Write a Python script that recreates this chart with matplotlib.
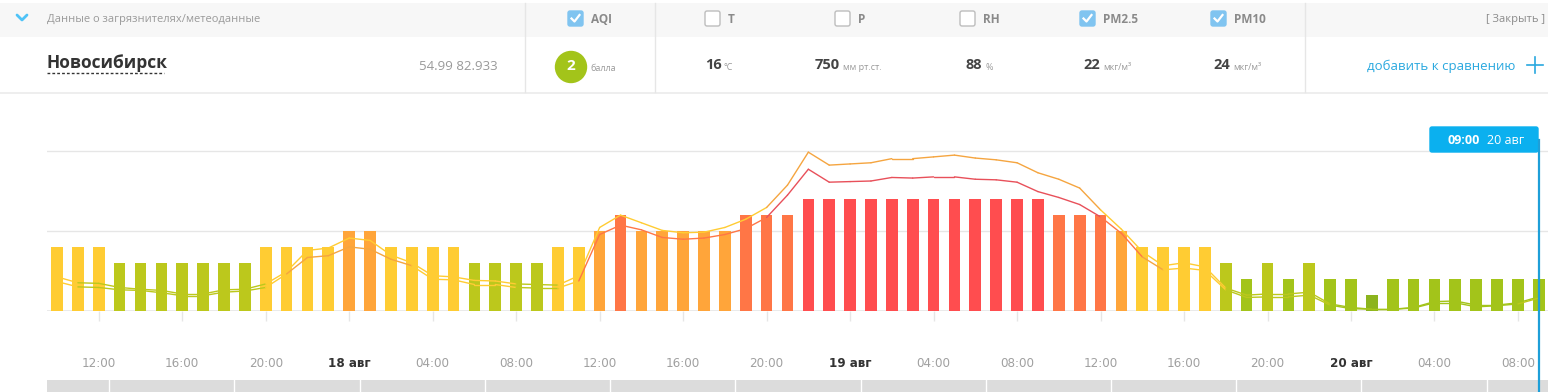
import matplotlib
matplotlib.use("Agg")
import matplotlib.pyplot as plt
import numpy as np
from matplotlib.patches import Rectangle, Circle, FancyBboxPatch
from matplotlib.collections import LineCollection
from matplotlib.transforms import blended_transform_factory

plt.rcParams['font.family'] = ['Open Sans', 'DejaVu Sans']

# AQI по часам, с 10:00 17 авг по 09:00 20 авг
aqi = [4, 4, 4, 3, 3, 3, 3, 3, 3, 3,
       4, 4, 4, 4, 5, 5, 4, 4, 4, 4,
       3, 3, 3, 3, 4, 4, 5, 6, 5, 5,
       5, 5, 5, 6, 6, 6, 7, 7, 7, 7,
       7, 7, 7, 7, 7, 7, 7, 7, 6, 6,
       6, 5, 4, 4, 4, 4, 3, 2, 3, 2,
       3, 2, 2, 1, 2, 2, 2, 2, 2, 2,
       2, 2]

# PM10 и PM2.5, мкг/м3
pm10 = [58, 48, 47, 40, 37, 35, 29, 29, 36, 37,
        46, 67, 103, 107, 124, 120, 95, 82, 60, 58,
        52, 51, 46, 45, 44, 60, 142, 163, 150, 137,
        133, 134, 142, 156, 176, 214, 270, 248, 250, 252,
        259, 259, 262, 265, 260, 257, 252, 235, 224, 209,
        172, 139, 101, 77, 82, 75, 39, 27, 29, 29,
        32, 12, 6, 3, 3, 6, 16, 17, 10, 10,
        14, 24]
pm25 = [50, 41, 40, 36, 35, 31, 26, 26, 32, 34,
        40, 63, 91, 94, 109, 105, 88, 77, 54, 53,
        45, 45, 40, 39, 39, 51, 130, 146, 138, 125,
        122, 124, 130, 140, 159, 197, 241, 219, 220, 221,
        227, 226, 228, 228, 224, 223, 219, 203, 193, 181,
        160, 132, 92, 70, 73, 69, 36, 23, 24, 24,
        27, 10, 4, 3, 3, 5, 14, 14, 7, 9,
        12, 22]

tick_pos = [2, 6, 10, 14, 18, 22, 26, 30, 34, 38, 42, 46, 50, 54, 58, 62, 66, 70]
tick_labels = ['12:00', '16:00', '20:00', '18 авг', '04:00', '08:00', '12:00', '16:00', '20:00',
               '19 авг', '04:00', '08:00', '12:00', '16:00', '20:00', '20 авг', '04:00', '08:00']

level_colors = ['#8cb41e', '#a3c41a', '#bcc81c', '#ffcc33', '#ffa53a', '#ff7646', '#ff4d4f']
line_colors = ['#8cb41e', '#a3c41a', '#bcc81c', '#ffcc33', '#f5a540', '#ff7646', '#e8505a']
pm10_limits = [25, 50, 200]
pm25_limits = [20, 45, 80, 120, 180]

W, H = 1548, 392
fig = plt.figure(figsize=(W / 100, H / 100), dpi=100)

# --- график ---
x = np.arange(len(aqi))
ax = fig.add_axes([47 / W, 81 / H, (W - 47) / W, 200 / H])
ax.set_xlim(-0.48, 71.44)
ax.set_ylim(0, 12.5)
ax.bar(x, aqi, width=0.56, color=[level_colors[a - 1] for a in aqi], zorder=2)

ax2 = ax.twinx()
ax2.set_ylim(0, 340)


def colored_line(vals, limits):
    pts = np.column_stack([x, vals])
    segs = np.stack([pts[:-1], pts[1:]], axis=1)
    cols = []
    for a, b in zip(vals[:-1], vals[1:]):
        lvl = 1 + sum(max(a, b) >= t for t in limits)
        cols.append(line_colors[lvl])
    return LineCollection(segs, colors=cols, linewidths=1.0, zorder=3, capstyle='round')


ax2.add_collection(colored_line(pm10, pm10_limits))
ax2.add_collection(colored_line(pm25, pm25_limits))
ax2.axis('off')

ax.set_yticks([5, 10])
ax.yaxis.grid(True, color='#e6e6e6', lw=1)
ax.set_axisbelow(True)
ax.axhline(0, color='#e6e6e6', lw=1.2, zorder=1)
for s in ax.spines.values():
    s.set_visible(False)
ax.tick_params(axis='y', length=0, labelleft=False)
ax.set_xticks(tick_pos)
ax.set_xticklabels(tick_labels)
ax.tick_params(axis='x', length=7, width=1, color='#e6e6e6', pad=26, labelsize=9.5,
               labelcolor='#a0a0a0')
for lab in ax.get_xticklabels():
    lab.set_family('DejaVu Sans')
    lab.set_fontstretch('condensed')
    if 'авг' in lab.get_text():
        lab.set_fontweight('bold')
        lab.set_color('#333333')

# нижняя полоса навигатора
strip = fig.add_axes([47 / W, 0, (W - 47) / W, 12 / H])
strip.set_facecolor('#dcdcdc')
strip.set_xlim(ax.get_xlim())
strip.set_ylim(0, 1)
for sx in np.arange(2.5, 72, 6):
    strip.axvline(sx, color='white', lw=1)
strip.set_xticks([])
strip.set_yticks([])
for s in strip.spines.values():
    s.set_visible(False)

# --- шапка, в пикселях ---
ov = fig.add_axes([0, 0, 1, 1], zorder=5)
ov.set_xlim(0, W)
ov.set_ylim(H, 0)
ov.axis('off')

ov.add_patch(Rectangle((0, 3), W, 34, color='#f7f7f7', lw=0))
ov.add_patch(Rectangle((0, 92), W, 2, color='#eeeeee', lw=0))
for vx in [525, 655, 1305]:
    ov.plot([vx, vx], [3, 92], color='#e6e6e6', lw=1)

ov.plot([17, 22, 27], [15, 20, 15], color='#4fc3f7', lw=2, solid_capstyle='round')
ov.text(47, 19, 'Данные о загрязнителях/метеоданные', fontsize=8, color='#9a9a9a', va='center')


def checkbox(cx, label, checked):
    if checked:
        ov.add_patch(FancyBboxPatch((cx, 11), 15, 15, boxstyle='round,pad=0,rounding_size=2',
                                    fc='#80c4f0', ec='#80c4f0', lw=1))
        ov.plot([cx + 3.5, cx + 6.5, cx + 11.5], [18.5, 21.5, 15], color='white', lw=1.6)
    else:
        ov.add_patch(FancyBboxPatch((cx, 11), 15, 15, boxstyle='round,pad=0,rounding_size=2',
                                    fc='white', ec='#bdbdbd', lw=1))
    ov.text(cx + 23, 19, label, fontsize=8.5, fontweight='bold', color='#8a8a8a', va='center')


checkbox(568, 'AQI', True)
checkbox(705, 'T', False)
checkbox(835, 'P', False)
checkbox(960, 'RH', False)
checkbox(1080, 'PM2.5', True)
checkbox(1211, 'PM10', True)
ov.text(1545, 19, '[ Закрыть ]', fontsize=8, color='#8a8a8a', va='center', ha='right')

ov.text(47, 63, 'Новосибирск', fontsize=12.5, fontweight='bold', color='#333333', va='center')
ov.plot([47, 164], [73, 73], color='#333333', lw=1, ls=(0, (2, 1.5)))
ov.text(498, 66, '54.99 82.933', fontsize=9.5, color='#999999', va='center', ha='right')

ov.add_patch(Circle((571, 67), 15.5, color=level_colors[aqi[-1] - 1]))
ov.text(571, 66, str(aqi[-1]), fontsize=11, fontweight='bold', color='white', va='center', ha='center')
ov.text(590, 68, 'балла', fontsize=6.5, color='#999999', va='center')

values = [(705, '16', 723, '°C'), (815, '750', 843, 'мм рт.ст.'), (966, '88', 986, '%'),
          (1083, str(pm25[-1]), 1103, 'мкг/м³'), (1213, str(pm10[-1]), 1233, 'мкг/м³')]
for vx, v, ux, u in values:
    ov.text(vx, 65, v, fontsize=10.5, fontweight='bold', color='#444444', va='center')
    ov.text(ux, 67, u, fontsize=6.5, color='#999999', va='center')

ov.text(1367, 66, 'добавить к сравнению', fontsize=9.5, color='#29a8df', va='center')
ov.plot([1527, 1543], [65, 65], color='#29a8df', lw=1.2)
ov.plot([1535, 1535], [57, 73], color='#29a8df', lw=1.2)

# маркер текущего часа
tr = blended_transform_factory(ax.transData, ov.transData)
ov.plot([len(aqi) - 1] * 2, [140, 392], color='#1e9fd8', lw=1.6, transform=tr, clip_on=False)
ov.add_patch(FancyBboxPatch((1430, 127), 108, 25, boxstyle='round,pad=0,rounding_size=2',
                            fc='#0bb0ef', ec='#0bb0ef'))
ov.text(1448, 140, '09:00', fontsize=9, fontweight='bold', color='white', va='center')
ov.text(1487, 140, '20 авг', fontsize=9, color='white', va='center')

fig.savefig('out.png', dpi=100)
